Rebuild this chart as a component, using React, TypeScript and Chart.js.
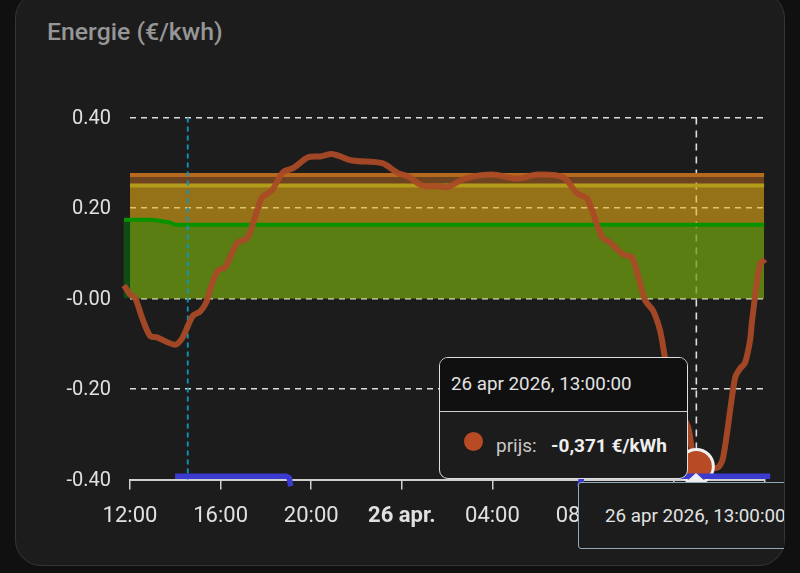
import React, { useEffect, useRef } from "react";
import { Chart, registerables } from "chart.js";

Chart.register(...registerables);

const xTickLabels = ["12:00", "16:00", "20:00", "26 apr.", "04:00", "08:00", "12:00", "16:00"];
const yTickLabels = ["-0.40", "-0.20", "-0.00", "0.20", "0.40"];

const priceHours = [-0.265, 0, 0.22, 0.53, 0.88, 1.19, 1.99, 2.3, 2.56, 2.78, 3.09, 3.36, 3.62, 3.89, 4.2, 4.72, 5.17, 5.43, 5.83, 6.27, 6.75, 7.2, 7.86, 8.39, 8.96, 9.8, 11.13, 11.83, 12.27, 12.89, 13.69, 14.0, 14.79, 15.98, 17.09, 18.01, 19.12, 19.74, 20.18, 20.84, 21.19, 21.77, 22.16, 22.74, 23.09, 23.4, 23.62, 24.06, 24.64, 25, 25.92, 26.18, 26.71, 26.93, 27.15, 27.37, 27.46, 27.81, 28.04, 28.26];
const priceValues = [0.029, 0.009, 0.002, -0.042, -0.082, -0.086, -0.102, -0.088, -0.06, -0.038, -0.029, -0.009, 0.033, 0.062, 0.069, 0.122, 0.133, 0.166, 0.223, 0.239, 0.279, 0.288, 0.312, 0.314, 0.319, 0.305, 0.299, 0.277, 0.27, 0.25, 0.248, 0.246, 0.265, 0.274, 0.265, 0.274, 0.268, 0.232, 0.221, 0.135, 0.124, 0.097, 0.091, -0.004, -0.027, -0.071, -0.131, -0.226, -0.285, -0.371, -0.374, -0.352, -0.175, -0.155, -0.142, -0.093, -0.049, 0.077, 0.086, 0.102];

const greenHours = [-0.265, 1.0, 1.76, 1.99, 28];
const greenValues = [0.174, 0.174, 0.168, 0.163, 0.163];
const bandHours = [0, 28];
const orangeBand = [0.273, 0.273];
const yellowBand = [0.25, 0.25];

const blueHours = [1.99, 6.9, 7.03, 7.09, 19.85, 19.95, 28.26];
const blueValues = [-0.393, -0.393, -0.396, -0.415, -0.415, -0.393, -0.393];
const blueBreakAfter = 3;

const cyanHour = [2.55, 2.55];
const crosshairHour = [25, 25];
const verticalSpan = [0.4, -0.4];
const hoverHour = 25;
const hoverValue = -0.371;

const zip = (xs: number[], ys: number[]) => xs.map((x, i) => ({ x, y: ys[i] }));

function ChartCanvas() {
  const ref = useRef<HTMLCanvasElement>(null);
  useEffect(() => {
    if (!ref.current) return;
    const blue: any[] = zip(blueHours, blueValues);
    blue.splice(blueBreakAfter + 1, 0, { x: 13, y: null });
    const chart = new Chart(ref.current, {
      type: "line",
      data: {
        datasets: [
          { type: "line", label: "hover", data: [{ x: hoverHour, y: hoverValue }], order: 2, clip: false as any, showLine: false, pointRadius: 17, pointBackgroundColor: "#b84a24", pointBorderColor: "#f0f0f0", pointBorderWidth: 3 },
          { type: "line", label: "blue", data: blue, order: 1, clip: false as any, borderColor: "#3b3bd2", borderWidth: 5.5, pointRadius: 0, borderJoinStyle: "round", spanGaps: false, tension: 0 },
          { type: "line", label: "prijs", data: zip(priceHours, priceValues), order: 3, clip: false as any, borderColor: "rgba(170,74,38,0.94)", borderWidth: 6, pointRadius: 0, tension: 0.3, borderJoinStyle: "round", borderCapStyle: "butt" },
          { type: "line", label: "cyan", data: zip(cyanHour, verticalSpan), order: 4, clip: false as any, borderColor: "#0a97c4", borderWidth: 1.8, borderDash: [5, 4], pointRadius: 0 },
          { type: "line", label: "green", data: zip(greenHours, greenValues), order: 5, clip: false as any, borderColor: "#079300", borderWidth: 4, backgroundColor: "rgba(0,145,10,0.4)", fill: "origin", pointRadius: 0, tension: 0 },
          { type: "bar", label: "greenEdge", data: [{ x: -0.132, y: [0, 0.174] }] as any, order: 6, clip: false as any, backgroundColor: "rgba(0,145,10,0.4)", barThickness: 6, borderWidth: 0 },
          { type: "line", label: "yellow", data: zip(bandHours, yellowBand), order: 7, borderColor: "#b39c1a", borderWidth: 4, backgroundColor: "rgba(241,225,5,0.3)", fill: "origin", pointRadius: 0 },
          { type: "line", label: "orange", data: zip(bandHours, orangeBand), order: 8, borderColor: "#b5691c", borderWidth: 4, backgroundColor: "rgba(235,128,38,0.4)", fill: "origin", pointRadius: 0 },
          { type: "line", label: "crosshair", data: zip(crosshairHour, verticalSpan), order: 9, clip: false as any, borderColor: "#dddddd", borderWidth: 1.6, borderDash: [7, 6], pointRadius: 0 },
        ],
      },
      options: {
        responsive: false,
        animation: false,
        devicePixelRatio: 1,
        layout: { padding: { left: 0, top: 117.5, right: 35.7, bottom: 43.5 } },
        plugins: { legend: { display: false }, tooltip: { enabled: false }, title: { display: false } },
        scales: {
          x: {
            type: "linear",
            offset: false,
            min: 0,
            max: 28,
            afterFit: (s: any) => { s.height = 50; s.paddingLeft = 0; s.paddingRight = 0; },
            afterBuildTicks: (s: any) => { s.ticks = xTickLabels.map((_, i) => ({ value: i * 4 })); },
            border: { display: true, color: "#cfcfcf", width: 2 },
            grid: { offset: false, drawOnChartArea: false, drawTicks: true, tickLength: 10, color: "#cfcfcf", lineWidth: 1.5 },
            ticks: {
              autoSkip: false,
              maxRotation: 0,
              padding: 14,
              color: "#e0e0e0",
              font: (ctx: any) => ({ family: "Roboto", size: 22, weight: ctx.index === 3 ? "bold" : "normal" }),
              callback: (_v: any, i: number) => xTickLabels[i],
            },
          },
          y: {
            type: "linear",
            min: -0.4,
            max: 0.4,
            afterFit: (s: any) => { s.width = 130; s.paddingTop = 0; s.paddingBottom = 0; },
            afterBuildTicks: (s: any) => { s.ticks = yTickLabels.map((l) => ({ value: parseFloat(l) })); },
            border: { display: false, dash: [6, 5] },
            grid: { drawTicks: false, color: "#dcdcdc", lineWidth: 1.5 },
            ticks: {
              padding: 19,
              labelOffset: 1,
              color: "#e0e0e0",
              font: { family: "Roboto", size: 20 },
              callback: (_v: any, i: number) => yTickLabels[i],
            },
          },
        },
      },
    } as any);
    return () => chart.destroy();
  }, []);
  return (
    <div style={{ position: "absolute", left: 0, top: 0, width: 784, height: 573, overflow: "hidden" }}>
      <canvas ref={ref} width={800} height={573} style={{ position: "absolute", left: 0, top: 0, width: 800, height: 573 }} />
    </div>
  );
}

const font = "Roboto, sans-serif";
const abs = (o: React.CSSProperties): React.CSSProperties => ({ position: "absolute", ...o });

export default function App() {
  return (
    <div style={abs({ position: "fixed", left: 0, top: 0, width: 800, height: 573, background: "#101010", overflow: "hidden", fontFamily: font })}>
      <div style={abs({ left: 15, top: -8, width: 770, height: 574, boxSizing: "border-box", background: "#1c1c1c", border: "1.5px solid #353535", borderRadius: 26 })} />
      <div style={abs({ left: 47, top: 17, fontSize: 24.8, lineHeight: "30px", fontWeight: 500, color: "#969696", whiteSpace: "nowrap" })}>Energie (€/kwh)</div>
      <ChartCanvas />

      <div style={abs({ left: 439, top: 357, width: 249, height: 122, boxSizing: "border-box", background: "#1c1c1c", border: "1.5px solid #dedede", borderRadius: 9, overflow: "hidden" })}>
        <div style={abs({ left: 0, top: 0, right: 0, height: 53, background: "#101010", borderBottom: "1.5px solid #cfcfcf" })} />
        <div style={abs({ left: 11, top: 14, fontSize: 18.8, lineHeight: "24px", color: "#e2e2e2", whiteSpace: "nowrap" })}>26 apr 2026, 13:00:00</div>
        <div style={abs({ left: 24, top: 74, width: 19, height: 19, borderRadius: "50%", background: "#b84a24" })} />
        <div style={abs({ left: 56, top: 76, fontSize: 19, lineHeight: "24px", color: "#c8c8c8", whiteSpace: "nowrap" })}>prijs:</div>
        <div style={abs({ left: 111, top: 76, fontSize: 19, lineHeight: "24px", fontWeight: 700, color: "#eeeeee", whiteSpace: "nowrap" })}>-0,371 €/kWh</div>
      </div>

      <div style={abs({ left: 685, top: 473, width: 0, height: 0, borderLeft: "11px solid transparent", borderRight: "11px solid transparent", borderBottom: "10px solid #eeeeee" })} />
      <div style={abs({ left: 578, top: 482, width: 206, height: 67, overflow: "hidden" })}>
        <div style={abs({ left: 0, top: 0, width: 300, height: 67, boxSizing: "border-box", background: "#1c1c1c", border: "1.5px solid #8fa9b5", borderRadius: 3 })} />
        <div style={abs({ left: 27, top: 22, fontSize: 18.8, lineHeight: "24px", color: "#e2e2e2", whiteSpace: "nowrap" })}>26 apr 2026, 13:00:00</div>
      </div>
    </div>
  );
}
